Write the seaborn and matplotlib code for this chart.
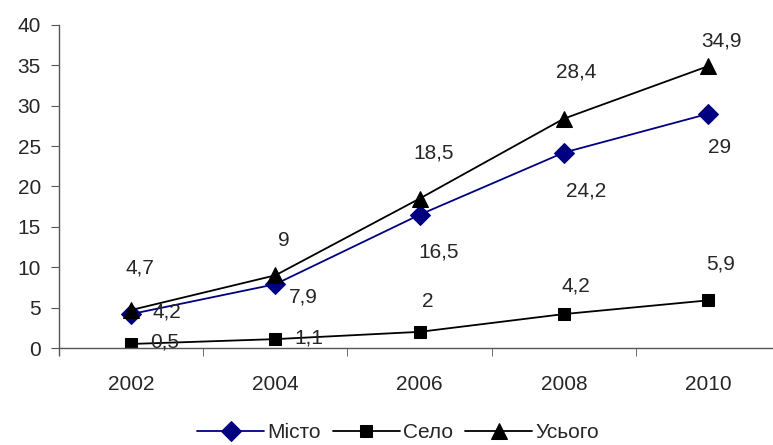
import numpy as np
import pandas as pd
import matplotlib.pyplot as plt
import seaborn as sb
from matplotlib.ticker import FixedLocator

years = ['2002', '2004', '2006', '2008', '2010']
misto = [4.2, 7.9, 16.5, 24.2, 29]
selo = [0.5, 1.1, 2, 4.2, 5.9]
usogo = [4.7, 9, 18.5, 28.4, 34.9]
series_names = ['Місто', 'Село', 'Усього']

# label offsets in pixels (layout only)
offs = {
    'Місто': [(36, -2), (28, 13), (19, 37), (22, 38), (11, 34)],
    'Село': [(34, -2), (33, -1), (8, -30), (12, -28), (13, -36)],
    'Усього': [(9, -42), (8, -35), (14, -46), (12, -47), (13, -25)],
}

sb.set_style('white')
plt.rcParams['font.family'] = ['Liberation Sans', 'DejaVu Sans']
FS = 15

df = pd.DataFrame({'year': years, 'Місто': misto, 'Село': selo, 'Усього': usogo})
long_df = df.melt(id_vars='year', var_name='series', value_name='value')

fig = plt.figure(figsize=(7.73, 4.45), dpi=100)
ax = fig.add_axes([59 / 773, 1 - 348 / 445, 1 - 59 / 773, (348 - 25) / 445])

styles = {'Місто': ('#000080', 'D', 10), 'Село': ('black', 's', 8.5), 'Усього': ('black', '^', 11)}
for name in series_names:
    col, mk, ms = styles[name]
    sub = long_df[long_df['series'] == name]
    sb.lineplot(data=sub, x='year', y='value', ax=ax, color=col, marker=mk,
                markersize=ms, markeredgecolor=col, linewidth=1.3, label=name)
    for i, (x, y) in enumerate(zip(sub['year'], sub['value'])):
        txt = ('%g' % y).replace('.', ',')
        dx, dy = offs[name][i]
        ax.annotate(txt, (i, y), xytext=(dx * 0.72, -dy * 0.72), textcoords='offset points',
                    ha='center', va='center', fontsize=FS)

ax.set_xlim(-0.5, 4.45)
ax.set_ylim(0, 40)
ax.set_yticks(range(0, 41, 5))
ax.set_xlabel('')
ax.set_ylabel('')
for s in ['top', 'right']:
    ax.spines[s].set_visible(False)
for s in ['left', 'bottom']:
    ax.spines[s].set_color('#555555')
    ax.spines[s].set_linewidth(1)
ax.tick_params(axis='y', left=True, direction='out', length=6, color='#555555', labelsize=FS, pad=7)
ax.tick_params(axis='x', bottom=False, labelsize=FS, pad=16)
ax.xaxis.set_minor_locator(FixedLocator(np.arange(-0.5, 4.6, 1)))
ax.tick_params(axis='x', which='minor', bottom=True, direction='out', length=6, color='#555555')
ax.spines['left'].set_bounds(-0.9, 40)
ax.spines['left'].set_position(('data', -0.5))

leg = ax.legend(loc='center', bbox_to_anchor=(0.515, 1 - 433 / 445), bbox_transform=fig.transFigure,
                ncol=3, frameon=False, fontsize=FS, handlelength=3.2, handletextpad=0.15,
                columnspacing=0.6)

fig.savefig('out.png', dpi=100)
